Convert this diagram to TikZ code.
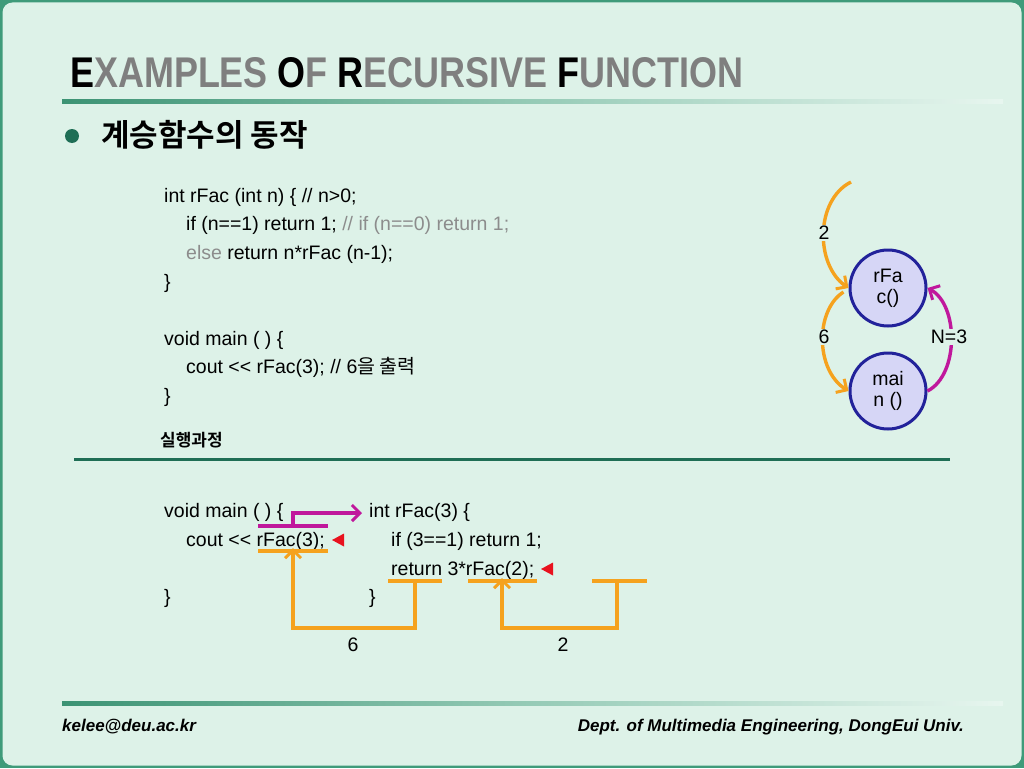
\documentclass[tikz,border=0pt]{standalone}
\usepackage{fontspec}
\usepackage{graphicx}
\setmainfont{Liberation Sans}
\newfontfamily\kr{Noto Sans CJK KR}
\newfontfamily\krb{Noto Sans CJK KR Bold}
\usetikzlibrary{arrows.meta}
\definecolor{bg}{HTML}{DDF2E8}
\definecolor{frame}{HTML}{3F9B7A}
\definecolor{dkgreen}{HTML}{1E6E55}
\definecolor{ttlgray}{HTML}{7F7F7F}
\definecolor{cmtgray}{HTML}{8C8C8C}
\definecolor{orng}{HTML}{F5A21E}
\definecolor{mgnt}{HTML}{C0189C}
\definecolor{circfill}{HTML}{D6D6F6}
\definecolor{circline}{HTML}{22229A}
\definecolor{tri}{HTML}{E8121E}
\tikzset{
  code/.style={anchor=base west, inner sep=0pt, font=\fontsize{19.5}{22}\selectfont},
  lbl/.style={fill=bg, inner sep=1.5pt, font=\fontsize{19.5}{22}\selectfont},
  oline/.style={draw=orng, line width=3.4pt},
  mline/.style={draw=mgnt, line width=3.4pt},
  barb/.style={-{Straight Barb[length=8pt,width=16pt,line width=3pt]}},
  fcall/.style={circle, draw=circline, line width=3pt, fill=circfill, minimum size=76pt, inner sep=0pt, align=center, font=\fontsize{19.5}{21}\selectfont},
  redtri/.style={fill=tri, draw=none},
}
\begin{document}
\begin{tikzpicture}[x=1pt,y=-1pt]
\useasboundingbox (0,0) rectangle (1024,768);
\fill[frame] (0,0) rectangle (1024,768);
\fill[bg, rounded corners=10pt] (2.5,2.5) rectangle (1021.5,765.5);
% title
\node[anchor=base west, inner sep=0pt] (title) at (70,87)
  {\resizebox{673pt}{30pt}{\bfseries\fontsize{40}{40}\selectfont
  \textcolor{black}{E}\textcolor{ttlgray}{XAMPLES} \textcolor{black}{O}\textcolor{ttlgray}{F} \textcolor{black}{R}\textcolor{ttlgray}{ECURSIVE} \textcolor{black}{F}\textcolor{ttlgray}{UNCTION}}};
\shade[left color=frame!95!black, right color=bg!70!white, middle color=frame!45!bg] (62,99) rectangle (1003,103);
% bullet
\fill[dkgreen] (72,136) circle (7);
\node[anchor=west, inner sep=0pt, font=\krb\fontsize{31}{33}\selectfont] (head) at (101,135) {계승함수의 동작};
% code block 1
\node[code] (c1) at (164,202) {int rFac (int n) \{ // n>0;};
\node[code] (c2) at (186,230.5) {if (n==1) return 1; \textcolor{cmtgray}{// if (n==0) return 1;}};
\node[code] (c3) at (186,259) {\textcolor{cmtgray}{else} return n*rFac (n-1);};
\node[code] (c4) at (164,288) {\}};
\node[code] (c5) at (164,345) {void main ( ) \{};
\node[code] (c6) at (186,373.5) {cout <{}< rFac(3); // 6{\kr 을 출력}};
\node[code] (c7) at (164,402) {\}};
\node[anchor=west, inner sep=0pt, font=\krb\fontsize{17}{18}\selectfont] (exec) at (160,440) {실행과정};
\draw[dkgreen, line width=3pt] (74,459) -- (950,459);
% code block 2
\node[code] (d1) at (164,517) {void main ( ) \{};
\node[code] (d2) at (186,546) {cout <{}< rFac(3);};
\node[code] (d3) at (164,603) {\}};
\node[code] (e1) at (369,517) {int rFac(3) \{};
\node[code] (e2) at (391,546) {if (3==1) return 1;};
\node[code] (e3) at (391,575) {return 3*rFac(2);};
\node[code] (e4) at (369,603) {\}};
% magenta call arrow
\coordinate (m1) at (258,526);
\coordinate (m2) at (328,526);
\coordinate (m3) at (293,526);
\coordinate (m4) at (293,513);
\coordinate (m5) at (362,513);
\draw[mline] (m1) -- (m2);
\draw[mline, barb] (m3) -- (m4) -- (m5);
% orange return arrows
\coordinate (o1a) at (258,551);
\coordinate (o1b) at (328,551);
\coordinate (o1c) at (293,551);
\coordinate (o1d) at (293,628);
\coordinate (o1e) at (415,628);
\coordinate (o1f) at (415,581);
\coordinate (o1g) at (388,581);
\coordinate (o1h) at (442,581);
\draw[oline] (o1a) -- (o1b);
\draw[oline] (o1g) -- (o1h);
\draw[oline, barb] (o1f) -- (o1e) -- (o1d) -- ([yshift=3pt]o1c);
\coordinate (o2a) at (468,581);
\coordinate (o2b) at (537,581);
\coordinate (o2c) at (502,581);
\coordinate (o2d) at (502,628);
\coordinate (o2e) at (617,628);
\coordinate (o2f) at (617,581);
\coordinate (o2g) at (592,581);
\coordinate (o2h) at (647,581);
\draw[oline] (o2a) -- (o2b);
\draw[oline] (o2g) -- (o2h);
\draw[oline, barb] (o2f) -- (o2e) -- (o2d) -- ([yshift=3pt]o2c);
\node[lbl, fill=none] (r6) at (353,645) {6};
\node[lbl, fill=none] (r2) at (563,645) {2};
% red markers
\fill[redtri] (332,540) -- (344,533.5) -- (344,546.5) -- cycle;
\fill[redtri] (541,569) -- (553,562.5) -- (553,575.5) -- cycle;
% right diagram
\node[fcall] (rfac) at (888,288) {rFa\\c()};
\node[fcall] (mainf) at (888,391) {mai\\n ()};
\coordinate (top) at (851,182);
\draw[oline, barb] (top) .. controls (815,200) and (815,265) .. (rfac.west);
\draw[oline, barb] ([shift={(-5,4)}]rfac.west) .. controls (815,310) and (815,370) .. (mainf.west);
\draw[mline, barb] (mainf.east) .. controls (959,375) and (959,305) .. (rfac.east);
\node[lbl] (l2) at (824,233) {2};
\node[lbl] (l6) at (824,337) {6};
\node[lbl] (ln) at (949,337) {N=3};
% footer
\shade[left color=frame!95!black, right color=bg!70!white, middle color=frame!45!bg] (62,701) rectangle (1003,705);
\node[anchor=base west, inner sep=0pt, font=\bfseries\itshape\fontsize{17}{19}\selectfont] (mail) at (62,731) {kelee@deu.ac.kr};
\node[anchor=base east, inner sep=0pt, font=\bfseries\itshape\fontsize{17}{19}\selectfont] (dept) at (964,731) {Dept. of Multimedia Engineering, DongEui Univ.};
\end{tikzpicture}
\end{document}
